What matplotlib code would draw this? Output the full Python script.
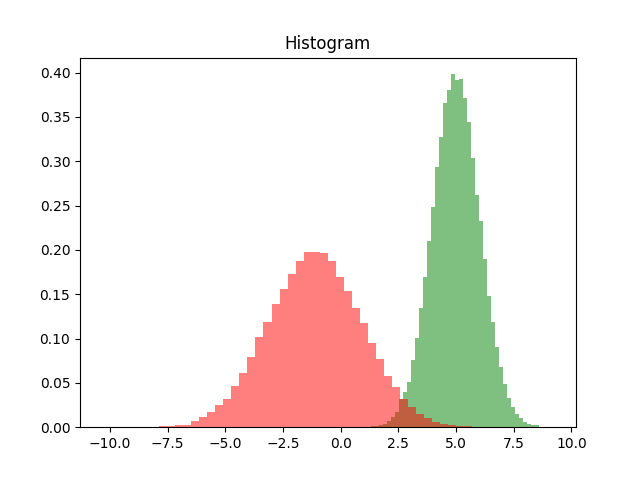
import numpy as np
import matplotlib
matplotlib.use("Agg")
import matplotlib.pyplot as plt

red_start = -7.87
red_width = 0.348
red_heights = [0.001, 0.001, 0.002, 0.003, 0.007, 0.011, 0.017, 0.025, 0.032, 0.046,
               0.061, 0.079, 0.102, 0.119, 0.139, 0.156, 0.173, 0.188, 0.198, 0.198,
               0.196, 0.187, 0.170, 0.154, 0.134, 0.117, 0.095, 0.077, 0.058, 0.045,
               0.032, 0.023, 0.015, 0.010, 0.006, 0.004, 0.0025, 0.001, 0.001]

green_start = 1.30
green_width = 0.174
green_heights = [0.001, 0.001, 0.002, 0.004, 0.007, 0.011, 0.017, 0.032, 0.040, 0.051,
                 0.076, 0.101, 0.134, 0.170, 0.210, 0.249, 0.294, 0.327, 0.366, 0.381,
                 0.398, 0.392, 0.393, 0.371, 0.344, 0.304, 0.262, 0.233, 0.190, 0.148,
                 0.119, 0.090, 0.068, 0.049, 0.033, 0.023, 0.015, 0.010, 0.006, 0.004,
                 0.002, 0.002]

fig, ax = plt.subplots(figsize=(6.4, 4.8), dpi=100)
g_edges = green_start + green_width * np.arange(len(green_heights) + 1)
r_edges = red_start + red_width * np.arange(len(red_heights) + 1)
ax.stairs(green_heights, g_edges, fill=True, color='g', alpha=0.5, linewidth=0)
ax.stairs(red_heights, r_edges, fill=True, color='r', alpha=0.5, linewidth=0)
ax.set_xlim(-11.3, 10.2)
ax.set_ylim(0, 0.417)
ax.set_title('Histogram')
fig.savefig('out.png')
